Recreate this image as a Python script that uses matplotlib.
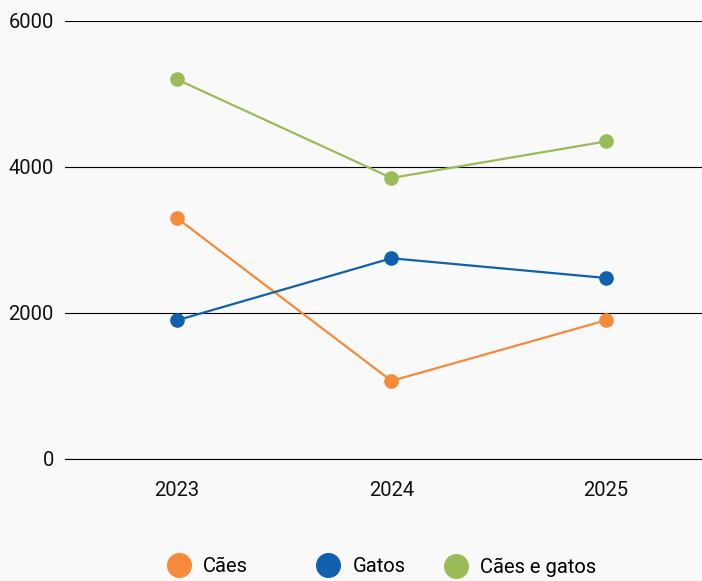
import matplotlib.pyplot as plt
from matplotlib.lines import Line2D

plt.rcParams['font.family'] = ['Roboto', 'DejaVu Sans']

years = ["2023", "2024", "2025"]
caes = [3300, 1070, 1900]
gatos = [1900, 2750, 2480]
caes_gatos = [5200, 3850, 4350]

names = ["Cães", "Gatos", "Cães e gatos"]
colors = ["#F58A3A", "#1160AE", "#9BBB59"]
series = [caes, gatos, caes_gatos]

fig = plt.figure(figsize=(7.02, 5.81), dpi=100, facecolor="#f9f9f9")
ax = fig.add_axes([65 / 702, 1 - 459 / 581, 1 - 65 / 702, (459 - 21) / 581])
ax.set_facecolor("#f9f9f9")

x = list(range(len(years)))
for vals, c in zip(series, colors):
    ax.plot(x, vals, color=c, lw=1.6, marker='o', markersize=9.5, zorder=3)

ax.set_ylim(0, 6000)
ax.set_yticks([0, 2000, 4000, 6000])
ax.set_xlim(-0.522, 2.448)
ax.set_xticks(x)
ax.set_xticklabels(years)
ax.grid(axis='y', color='black', lw=0.8)
ax.set_axisbelow(True)
for s in ax.spines.values():
    s.set_visible(False)
ax.spines['bottom'].set_visible(True)
ax.spines['bottom'].set_color('black')
ax.spines['bottom'].set_linewidth(0.8)
ax.tick_params(length=0, labelsize=14.5, colors="#111111")
ax.tick_params(axis='x', pad=16)
ax.tick_params(axis='y', pad=8)

# legend entries, one per series, spread like the original
marker_px = [179, 328, 456]
for name, c, mx in zip(names, colors, marker_px):
    h = Line2D([], [], ls='none', marker='o', markersize=17, color=c)
    fig.legend([h], [name], loc='center left', bbox_to_anchor=((mx - 15) / 702, 1 - 567 / 581),
               frameon=False, fontsize=14.5, handletextpad=0.45, handlelength=1.5,
               borderpad=0, borderaxespad=0)

fig.savefig("out.png", dpi=100, facecolor=fig.get_facecolor())
